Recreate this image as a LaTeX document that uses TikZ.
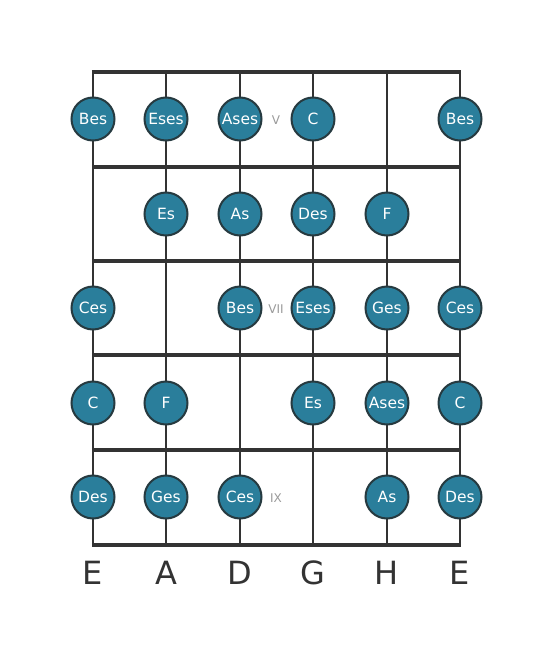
\documentclass[tikz,border=0pt]{standalone}
\usepackage{fontspec}
\setmainfont{DejaVu Sans}
\definecolor{notefill}{HTML}{2A7E9B}
\definecolor{noteline}{HTML}{263A40}
\definecolor{gridline}{HTML}{333333}
\definecolor{fretlab}{HTML}{9A9A9A}
\begin{document}
\begin{tikzpicture}[x=1pt,y=-1pt,
  note/.style={circle,draw=noteline,line width=2pt,fill=notefill,minimum size=43pt,inner sep=0pt,text=white,font=\fontsize{15.5}{15.5}\selectfont},
  fretnum/.style={text=fretlab,font=\fontsize{12}{12}\selectfont},
  strname/.style={text=gridline,font=\fontsize{32}{32}\selectfont},
  stringline/.style={draw=gridline,line width=2.5pt},
  fretline/.style={draw=gridline,line width=4pt}]
\useasboundingbox (0,0) rectangle (553,656);
% string coordinates
\foreach \n/\x in {1/93,2/166,3/240,4/313,5/387,6/460}{
  \coordinate (t\n) at (\x,72);
  \coordinate (b\n) at (\x,545);
}
\foreach \f/\y in {0/72,1/167,2/261,3/355,4/450,5/545}{
  \coordinate (fl\f) at (93,\y);
  \coordinate (fr\f) at (460,\y);
}
\foreach \n in {1,...,6}{ \draw[stringline] (t\n) -- (b\n); }
\foreach \f in {0,...,5}{ \draw[fretline] ([xshift=-1.25pt]fl\f) -- ([xshift=1.25pt]fr\f); }
% row 1
\node[note] (r1a) at (93,119) {Bes};
\node[note] (r1b) at (166,119) {Eses};
\node[note] (r1c) at (240,119) {Ases};
\node[fretnum] (f5) at (276,120) {V};
\node[note] (r1d) at (313,119) {C};
\node[note] (r1f) at (460,119) {Bes};
% row 2
\node[note] (r2b) at (166,214) {Es};
\node[note] (r2c) at (240,214) {As};
\node[note] (r2d) at (313,214) {Des};
\node[note] (r2e) at (387,214) {F};
% row 3
\node[note] (r3a) at (93,308) {Ces};
\node[note] (r3c) at (240,308) {Bes};
\node[fretnum] (f7) at (276,309) {VII};
\node[note] (r3d) at (313,308) {Eses};
\node[note] (r3e) at (387,308) {Ges};
\node[note] (r3f) at (460,308) {Ces};
% row 4
\node[note] (r4a) at (93,403) {C};
\node[note] (r4b) at (166,403) {F};
\node[note] (r4d) at (313,403) {Es};
\node[note] (r4e) at (387,403) {Ases};
\node[note] (r4f) at (460,403) {C};
% row 5
\node[note] (r5a) at (93,497) {Des};
\node[note] (r5b) at (166,497) {Ges};
\node[note] (r5c) at (240,497) {Ces};
\node[fretnum] (f9) at (276,498) {IX};
\node[note] (r5e) at (387,497) {As};
\node[note] (r5f) at (460,497) {Des};
% string names
\node[strname] (s1) at (93,573) {E};
\node[strname] (s2) at (166,573) {A};
\node[strname] (s3) at (240,573) {D};
\node[strname] (s4) at (313,573) {G};
\node[strname] (s5) at (387,573) {H};
\node[strname] (s6) at (460,573) {E};
\end{tikzpicture}
\end{document}
